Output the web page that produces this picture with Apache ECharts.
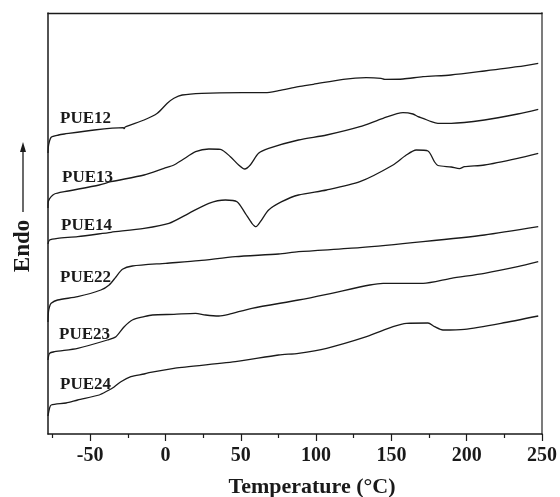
<!DOCTYPE html>
<html><head><meta charset="utf-8">
<script src="https://cdn.jsdelivr.net/npm/echarts@6/dist/echarts.min.js"></script>
<style>html,body{margin:0;padding:0;background:#fff}#c{width:560px;height:497px}</style>
</head><body><div id="c"></div>
<script>
// Tick values (°C)
const xTickLabels = [-50, 0, 50, 100, 150, 200, 250];
const xMinorTicks = [-75, -25, 25, 75, 125, 175, 225];

// Curve names
const curveNames = ['PUE12', 'PUE13', 'PUE14', 'PUE22', 'PUE23', 'PUE24'];

// Temperatures (°C) and heat-flow signal (arbitrary units, endo up)
const pue12T = [-78, -77.6, -75.9, -71, -67.1, -47.3, -28, -27.4, -26.8, -14.2, -5.4, 1.2, 5.6, 11.1, 24.1, 50.6, 66.3, 75.1, 88.3, 98.2, 118, 133.3, 143.2, 145.6, 157.7, 171, 189.5, 211.8, 233.9, 247.5];
const pue12V = [281, 289, 296.7, 299, 300, 304, 306.3, 305.3, 307, 314, 320.7, 330.7, 335.7, 339, 340.7, 341.3, 341.3, 343.3, 347.3, 349.7, 354.7, 356.3, 355.7, 354.7, 355, 357.3, 359, 363, 367.3, 370.7];

const pue13T = [-78, -77.7, -75.9, -73.7, -67.1, -44, -36.2, -14.2, -1, 5.6, 11.1, 20, 28.8, 36.5, 43.1, 48.6, 52.6, 56.3, 61.8, 68.5, 88.3, 107, 129.1, 144.5, 157.7, 164.3, 167.7, 171, 176.5, 180.9, 189.7, 211.8, 233.9, 247.5];
const pue13V = [226, 233, 237.3, 240, 242.3, 249, 252.3, 259, 265.7, 269, 274, 282.3, 285, 284.7, 277.3, 269, 265, 269, 280.7, 285.7, 294, 299, 307.3, 315.7, 321.3, 320, 317.3, 315.7, 312.3, 310.7, 310.7, 314, 320, 324.7];

const pue14T = [-78, -77, -71.6, -58.3, -36.2, -14.2, 2.3, 15.5, 28.8, 39.8, 47.5, 53, 57.4, 60.1, 63, 68.5, 77.2, 88.3, 107, 129.1, 151.1, 159.9, 166.5, 174.3, 178.7, 180.9, 189.7, 195.2, 198.5, 211.8, 233.8, 247.5];
const pue14V = [190, 194, 195.7, 197.3, 201.7, 205.7, 210.7, 220.7, 230.7, 234, 232.3, 220.7, 210.7, 207.3, 212.3, 224, 232.3, 239, 244, 252.3, 269, 279, 284, 283, 272, 268.5, 267, 265.3, 267.3, 269, 275.7, 280.7];

const pue22T = [-78, -77.7, -77, -75.9, -71.6, -58.3, -42.9, -37.4, -32.9, -28.6, -22, 0.1, 22.2, 46.4, 75.1, 88.3, 129.1, 171, 211.8, 247.5];
const pue22V = [112, 122, 127.3, 130.7, 134, 137.3, 144, 149, 157, 164.7, 168, 170.7, 173.3, 177.3, 180, 182.3, 186.3, 192.3, 199, 207.3];

const pue23T = [-78, -77, -73.7, -58.3, -38.5, -32.9, -27.4, -22, -14.2, -8.7, 5.6, 20, 26.6, 35.4, 42, 57.4, 88.3, 107, 135.7, 144.5, 171, 189.7, 211.8, 233.8, 247.5];
const pue23V = [74, 80.7, 82.3, 85.7, 94, 97.3, 107.3, 114, 117.3, 119, 119.7, 120.7, 119, 118, 119.7, 125.7, 134, 139.7, 149, 150.7, 150.7, 155.7, 160.7, 167.3, 172.3];

const pue24T = [-78, -77, -75.9, -66, -58.3, -44, -38.7, -34.1, -29.6, -23, -14.2, -10.9, 5.6, 11.1, 46.4, 75.1, 88.3, 107, 133.5, 151.1, 160, 174.3, 178.7, 184.2, 198.5, 222.8, 247.5];
const pue24V = [18, 25.7, 29, 31, 34, 39, 43, 47, 52.3, 57.3, 60, 61.3, 65.7, 66.7, 72.3, 79, 80.7, 85.7, 97.3, 107.3, 110.7, 111, 107.3, 104, 104.7, 110.7, 118];

const curveTs = [pue12T, pue13T, pue14T, pue22T, pue23T, pue24T];
const curveVs = [pue12V, pue13V, pue14V, pue22V, pue23V, pue24V];

const FONT = '"Liberation Serif","Times New Roman",serif';
const chart = echarts.init(document.getElementById('c'), null, {renderer: 'canvas'});

const labelPos = [[60, 119], [62, 178], [61, 226], [60, 278], [59, 335], [60, 385]];

const series = curveNames.map((name, i) => ({
  name: name,
  type: 'line',
  xAxisIndex: 0,
  yAxisIndex: 0,
  data: curveTs[i].map((t, j) => [t, curveVs[i][j]]),
  showSymbol: false,
  smooth: 0.25,
  lineStyle: {color: '#1a1a1a', width: 1.3, join: 'round'},
  silent: true
}));

const graphics = curveNames.map((name, i) => ({
  type: 'text',
  left: labelPos[i][0],
  top: labelPos[i][1] - 9,
  style: {text: name, font: 'bold 17px ' + FONT, fill: '#1a1a1a'}
}));

graphics.push({
  type: 'text',
  x: 312, y: 487,
  style: {text: 'Temperature (°C)', font: 'bold 22px ' + FONT, fill: '#1a1a1a', align: 'center', verticalAlign: 'middle'}
});
graphics.push({
  type: 'text',
  x: 23, y: 246, rotation: Math.PI / 2,
  style: {text: 'Endo', font: 'bold 23px ' + FONT, fill: '#1a1a1a', align: 'center', verticalAlign: 'middle'}
});
graphics.push({
  type: 'line',
  shape: {x1: 23, y1: 212, x2: 23, y2: 150},
  style: {stroke: '#1a1a1a', lineWidth: 1.3}
});
graphics.push({
  type: 'polygon',
  shape: {points: [[23, 142], [20, 152], [26, 152]]},
  style: {fill: '#1a1a1a'}
});

const option = {
  animation: false,
  backgroundColor: '#fff',
  grid: {left: 48, right: 17, top: 13, bottom: 63, containLabel: false},
  xAxis: [
    {
      type: 'value', min: -78, max: 250, position: 'bottom',
      axisLine: {show: true, onZero: false, lineStyle: {color: '#1a1a1a', width: 1.5}},
      axisTick: {show: true, customValues: xTickLabels, length: 7, inside: false, lineStyle: {color: '#1a1a1a', width: 1.2}},
      axisLabel: {show: true, customValues: xTickLabels, fontFamily: FONT, fontWeight: 'bold', fontSize: 20, color: '#1a1a1a', margin: 12},
      splitLine: {show: false}
    },
    {
      type: 'value', min: -78, max: 250, position: 'bottom',
      axisLine: {show: false, onZero: false},
      axisTick: {show: true, customValues: xMinorTicks, length: 4, inside: false, lineStyle: {color: '#1a1a1a', width: 1.2}},
      axisLabel: {show: false},
      splitLine: {show: false}
    },
    {
      type: 'value', min: -78, max: 250, position: 'top',
      axisLine: {show: true, onZero: false, lineStyle: {color: '#1a1a1a', width: 1.3}},
      axisTick: {show: false}, axisLabel: {show: false}, splitLine: {show: false}
    }
  ],
  yAxis: [
    {
      type: 'value', min: 0, max: 421, position: 'left',
      axisLine: {show: true, onZero: false, lineStyle: {color: '#1a1a1a', width: 1.5}},
      axisTick: {show: false}, axisLabel: {show: false}, splitLine: {show: false}
    },
    {
      type: 'value', min: 0, max: 421, position: 'right',
      axisLine: {show: true, onZero: false, lineStyle: {color: '#6e6e6e', width: 1.8}},
      axisTick: {show: false}, axisLabel: {show: false}, splitLine: {show: false}
    }
  ],
  series: series,
  graphic: graphics
};
chart.setOption(option);
</script>
</body></html>
